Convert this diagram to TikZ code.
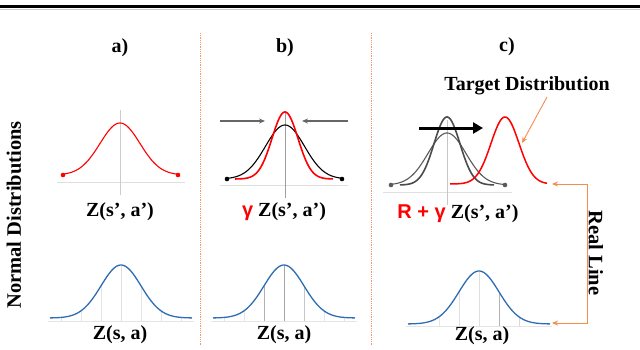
\documentclass[tikz,border=0pt]{standalone}
\usepackage{fontspec}
\setmainfont{Liberation Serif}
\newfontfamily\sansb{Liberation Sans}
\usetikzlibrary{arrows.meta}
\definecolor{cblue}{RGB}{46,109,180}
\definecolor{corange}{RGB}{244,140,80}
\definecolor{cdiv}{RGB}{248,150,100}
\definecolor{cred}{RGB}{255,0,0}
\newcommand\gcurve[7]{\draw[#1] plot[domain=#2:#3,samples=100,smooth] (\x,{#5-#6*exp(-((\x-#4)*(\x-#4))/(2*#7*#7))});}
\newcommand\bluebell[4]{% center, base, axis y, grid colours
  \foreach \d/\c in {#4}{
    \draw[\c, line width=0.8pt] ({#1+\d},#3) -- ({#1+\d},{#2-53*exp(-(\d*\d)/800)});
  }
  \draw[gray!20, line width=0.8pt] ({#1-73},#3) -- ({#1+73},#3);
  \gcurve{cblue, line width=1.3pt}{#1-71}{#1+71}{#1}{#2}{53}{20}
}
\begin{document}
\begin{tikzpicture}[x=1pt,y=-1pt,
  lbl/.style={font=\fontsize{20}{22}\selectfont\bfseries, inner sep=0pt},
  biglbl/.style={font=\fontsize{20.5}{24}\selectfont\bfseries, inner sep=0pt},
  divider/.style={cdiv, line width=1pt, dash pattern=on 1pt off 0.8pt},
  axisline/.style={gray!25, line width=0.8pt},
  vaxis/.style={gray!55, line width=0.8pt},
  dotred/.style={fill=cred, draw=none},
  ptr/.style={corange, line width=0.9pt, -{Stealth[length=6pt,width=5pt]}},
  squeeze/.style={gray!80!black, line width=1.2pt, -{Stealth[length=6pt,width=5pt]}}]
\useasboundingbox (0,0) rectangle (640,349);
% top rule
\draw[black, line width=2.4pt] (0,6.5) -- (640,6.5);
\draw[gray!40, line width=0.8pt] (0,9.5) -- (640,9.5);
% dividers
\coordinate (d1t) at (200,33); \coordinate (d1b) at (200,345);
\coordinate (d2t) at (371,33); \coordinate (d2b) at (371,345);
\draw[divider] (d1t) -- (d1b);
\draw[divider] (d2t) -- (d2b);
% panel labels
\node[lbl] (la) at (120,48) {a)};
\node[lbl] (lb) at (285,48) {b)};
\node[lbl] (lc) at (507,47) {c)};
\node[biglbl, rotate=90] (nd) at (14,215) {Normal Distributions};
% ---------- panel a top
\draw[axisline] (57,182) -- (185,182);
\draw[vaxis, gray!40] (120,110) -- (120,195);
\gcurve{cred, line width=1.1pt}{63}{178}{120}{175}{52}{20}
\fill[dotred] (63,175) circle (2.3);
\fill[dotred] (178,175) circle (2.3);
\node[lbl] (za) at (120,212) {Z(s’, a’)};
% ---------- panel b top
\draw[axisline] (220,185) -- (348,185);
\draw[vaxis, gray!75] (285,113) -- (285,198);
\gcurve{black, line width=1.1pt}{227}{342}{285}{179}{54}{19.5}
\gcurve{cred, line width=1.6pt}{235}{333}{285}{179}{67}{13}
\fill[black] (227,179) circle (2.3);
\fill[black] (342,179) circle (2.3);
\coordinate (al1) at (220,121); \coordinate (al2) at (265,121);
\coordinate (ar1) at (348,121); \coordinate (ar2) at (302,121);
\draw[squeeze] (al1) -- (al2);
\draw[squeeze] (ar1) -- (ar2);
\node[lbl] (zb) at (284,212) {{\sansb\color{cred}γ} Z(s’, a’)};
% ---------- panel c top
\draw[axisline] (383,192) -- (512,192);
\draw[vaxis, gray!45] (447,120) -- (447,205);
\gcurve{gray!70!black, line width=1.1pt}{391}{505}{447}{185}{52}{19}
\gcurve{gray!60!black, line width=1.6pt}{400}{494}{447}{185}{68}{13}
\fill[gray!70!black] (391,185) circle (2.3);
\fill[gray!70!black] (505,185) circle (2.3);
\gcurve{cred, line width=1.5pt}{450}{547}{505}{184}{67}{14}
\coordinate (sh1) at (419,128); \coordinate (sh2) at (483,128);
\draw[black, line width=3pt, -{Triangle[length=10pt,width=11pt]}] (sh1) -- (sh2);
\node[lbl] (zc) at (458,214) {{\sansb\color{cred}R + γ} Z(s’, a’)};
\node[lbl] (tgt) at (527,86) {Target Distribution};
\coordinate (tp1) at (547,97); \coordinate (tp2) at (522,143);
\draw[ptr] (tp1) -- (tp2);
% real line connector
\coordinate (r1) at (552,184); \coordinate (r2) at (587,184);
\coordinate (r3) at (587,323); \coordinate (r4) at (552,323);
\draw[corange, line width=0.9pt, {Stealth[length=6pt,width=5pt]}-{Stealth[length=6pt,width=5pt]}] (r1) -- (r2) -- (r3) -- (r4);
\node[biglbl, rotate=-90] (rl) at (596,253) {Real Line};
% ---------- bottom blue curves
\bluebell{121}{318}{321}{-60/gray!20,-40/gray!20,-20/gray!20,0/gray!25,20/gray!20,40/gray!20,60/gray!20}
\node[lbl] (zsa) at (120,335) {Z(s, a)};
\bluebell{284}{318}{321}{-60/gray!20,-40/gray!20,-20/gray!60,0/gray!70,20/gray!45,40/gray!20,60/gray!20}
\node[lbl] (zsb) at (284,335) {Z(s, a)};
\bluebell{479}{324}{326}{-40/gray!20,-20/gray!25,0/gray!25,20/gray!60,40/gray!30}
\node[lbl] (zsc) at (482,336) {Z(s, a)};
\end{tikzpicture}
\end{document}
